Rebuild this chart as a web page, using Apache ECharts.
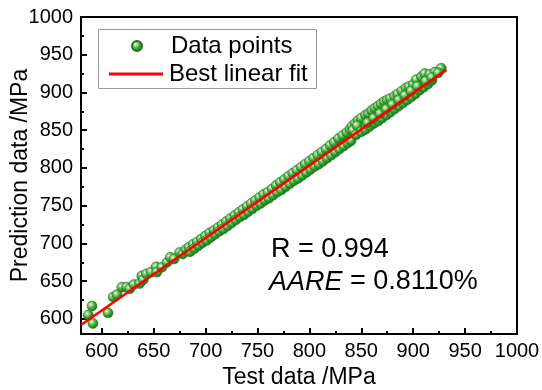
<!DOCTYPE html>
<html><head><meta charset="utf-8">
<script src="https://cdn.jsdelivr.net/npm/echarts@6/dist/echarts.min.js"></script>
<style>html,body{margin:0;padding:0;background:#fff}#c{width:542px;height:390px}</style>
</head><body><div id="c"></div>
<script>
const testValues = [587,590.6,591.5,606,611,614.6,619.4,624,627,631,
 636.5,638.6,640,643,647.6,652.4,653,658,663,666,
 669.7,675,678,681,
 684,685,688,689,692,693,696,697,700,701,
 704,705,708,709,712,713,716,717,720,721,
 724,725,728,729,732,733,736,737,740,741,
 744,745,748,749,752,753,756,757,760,761,
 764,765,768,769,772,773,776,777,780,781,
 784,785,788,789,792,793,796,797,800,801,
 804,805,808,809,812,813,816,817,820,821,
 824,825,828,829,832,833,836,837,
 839,841,844,847,850,842,846,840,845,
 854,857,860,863,866,869,872,875,878,882,885,889,893,896,900,903,908,911,916,921,927,
 850,854,858,862,866,870,874,878,882,886,890,894,898,902,906,910,914,918,
 856,862,868,874,880,886,892,898,904,912,918,924];
const predValues = [605,617,594,608,629,632,642,642,640,645.5,
 647,657,652,659.6,662,669,662,668.5,675,681.6,
 679.5,688,686,692,
 695,689,699,693,702,697,706,701,710,704,
 714,708,717,712,721,716,725,719,729,723,
 733,727,737,731,741,735,745,738,749,742,
 753,746,757,750,761,753,765,757,768,760,
 772,764,777,768,781,771,785,775,789,779,
 793,783,797,786,801,790,805,794,809,798,
 813,802,817,805,821,809,825,813,830,817,
 834,821,839,825,843,829,847,833,
 851,855,859,863,866,850,856,836,844,
 870,872,876,879,882,885,888,890,892,895,898,902,906,908,911,917,921,925,924,927,932,
 848,851,855,859,862,866,870,874,878,882,886,890,894,898,903,907,911,916,
 860,866,872,878,884,890,896,902,908,915,920,926];
const fitX = [580, 932];
const fitY = [592, 930];
const axisMin = 580, axisMax = 1000;
const seriesNames = ['Data points', 'Best linear fit'];
const statR = 'R = 0.994';
const statAARE = '0.8110%';

const FONT = 'Liberation Sans, Arial, sans-serif';
const chart = echarts.init(document.getElementById('c'));
const ball = {type:'radial', x:0.38, y:0.35, r:0.7, colorStops:[
  {offset:0, color:'#f4fff0'},{offset:0.25, color:'#8fd07f'},{offset:0.6, color:'#2f9a2a'},{offset:1, color:'#17701a'}]};
const axisCommon = {
  type:'value', min:axisMin, max:axisMax, splitNumber:8,
  axisLine:{show:true, lineStyle:{color:'#000', width:2}},
  axisTick:{show:true, inside:true, length:6, lineStyle:{color:'#000', width:2}},
  minorTick:{show:true, splitNumber:2, length:3, lineStyle:{color:'#000', width:2}},
  splitLine:{show:false},
  axisLabel:{color:'#000', fontSize:20, fontFamily:FONT, showMinLabel:false, formatter:v=>String(v)},
  nameLocation:'middle', nameMoveOverlap:false,
  nameTextStyle:{color:'#000', fontSize:23, fontFamily:FONT}
};
chart.setOption({
  animation:false,
  grid:{left:81, top:17, right:25, bottom:56, show:true, borderColor:'#000', borderWidth:2,
        containLabel:false, outerBoundsMode:'none'},
  xAxis:Object.assign({}, axisCommon, {name:'Test data /MPa', nameGap:32,
     axisLabel:Object.assign({}, axisCommon.axisLabel, {margin:7})}),
  yAxis:Object.assign({}, axisCommon, {name:'Prediction data /MPa', nameGap:49,
     axisLabel:Object.assign({}, axisCommon.axisLabel, {margin:8})}),
  legend:[
    {left:131, top:34, padding:0, itemWidth:10, itemHeight:10, itemGap:0,
     textStyle:{color:'#000', fontSize:24, fontFamily:FONT, padding:[0,0,0,24]},
     data:[{name:seriesNames[0], icon:'circle'}]},
    {left:109, top:62, padding:0, itemWidth:54, itemHeight:3, itemGap:0,
     textStyle:{color:'#000', fontSize:24, fontFamily:FONT, padding:[0,0,0,1]},
     data:[{name:seriesNames[1], icon:'rect'}]}
  ],
  series:[
    {name:seriesNames[0], type:'scatter', symbolSize:10,
     itemStyle:{color:ball, borderColor:'#1c7a1c', borderWidth:0.6, opacity:1},
     data:testValues.map((v,i)=>[v, predValues[i]]), z:2},
    {name:seriesNames[1], type:'line', symbol:'none', lineStyle:{color:'#ff0000', width:2.6},
     itemStyle:{color:'#ff0000'},
     data:fitX.map((v,i)=>[v, fitY[i]]), z:3}
  ],
  graphic:[
    {type:'rect', shape:{x:98.5, y:29.5, width:218, height:59},
     style:{fill:'none', stroke:'#999', lineWidth:1}, z:10},
    {type:'text', x:271, y:250, style:{text:statR, fill:'#000', font:'27px '+FONT, textVerticalAlign:'middle'}},
    {type:'text', x:269, y:282, style:{
      text:'{i|AARE} = '+statAARE, fill:'#000', font:'27px '+FONT, textVerticalAlign:'middle',
      rich:{i:{fontStyle:'italic', fontSize:27, fontFamily:FONT, fill:'#000'}}}}
  ]
});
</script></body></html>
